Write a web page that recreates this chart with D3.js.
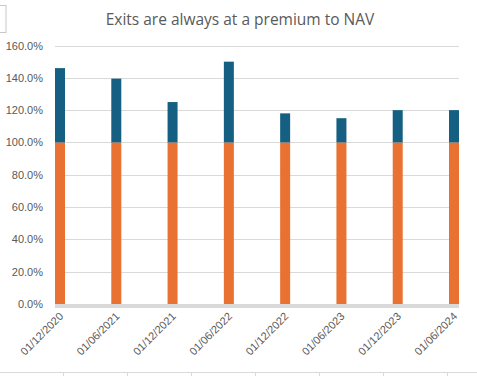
<!DOCTYPE html>
<html>
<head>
<meta charset="utf-8">
<script src="https://cdn.jsdelivr.net/npm/d3@7"></script>
<style>
  body { margin: 0; background: #fff; }
  svg { display: block; }
</style>
</head>
<body>
<svg id="chart" width="477" height="376"></svg>
<script>
const dates = ['01/12/2020', '01/06/2021', '01/12/2021', '01/06/2022',
               '01/12/2022', '01/06/2023', '01/12/2023', '01/06/2024']
const nav = [1, 1, 1, 1, 1, 1, 1, 1]
const premium = [0.46, 0.395, 0.25, 0.50, 0.18, 0.15, 0.20, 0.20]
const yTicks = [0, 0.2, 0.4, 0.6, 0.8, 1.0, 1.2, 1.4, 1.6]

const width = 477
const height = 376
const plot = { left: 55, right: 459, top: 45.5, bottom: 304 }
const barWidth = 10

const svg = d3.select('#chart')

// partially visible box at the top left
svg.append('rect')
    .attr('x', -2).attr('y', 5.5)
    .attr('width', 8).attr('height', 27)
    .attr('fill', '#fff')
    .attr('stroke', '#c8c8c8')

const x = d3.scalePoint()
    .domain(dates)
    .range([plot.left + barWidth / 2, plot.right - barWidth / 2])

const y = d3.scaleLinear()
    .domain([0, 1.6])
    .range([plot.bottom, plot.top])

// title
svg.append('text')
    .attr('x', 240).attr('y', 25)
    .attr('text-anchor', 'middle')
    .attr('font-family', 'Open Sans, sans-serif')
    .attr('font-size', '15.5px')
    .attr('fill', '#595959')
    .text('Exits are always at a premium to NAV')

// gridlines
svg.append('g')
    .selectAll('line')
    .data(yTicks.filter(d => d > 0))
    .join('line')
    .attr('x1', plot.left).attr('x2', plot.right)
    .attr('y1', d => Math.round(y(d)) + 0.5)
    .attr('y2', d => Math.round(y(d)) + 0.5)
    .attr('stroke', '#d9d9d9')
    .attr('stroke-width', 1)

// y labels
svg.append('g')
    .selectAll('text')
    .data(yTicks)
    .join('text')
    .attr('x', 43)
    .attr('y', d => y(d) + 4)
    .attr('text-anchor', 'end')
    .attr('font-family', 'Liberation Sans, Arial, sans-serif')
    .attr('font-size', '11px')
    .attr('fill', '#595959')
    .text(d => d3.format('.1f')(d * 100) + '%')

// stacked bars
const stack = dates.map((d, i) => ({ date: d, nav: nav[i], premium: premium[i] }))

svg.append('g')
    .selectAll('rect')
    .data(stack)
    .join('rect')
    .attr('x', d => x(d.date) - barWidth / 2)
    .attr('y', d => y(d.nav))
    .attr('width', barWidth)
    .attr('height', d => y(0) - y(d.nav))
    .attr('fill', '#e97132')

svg.append('g')
    .selectAll('rect')
    .data(stack)
    .join('rect')
    .attr('x', d => x(d.date) - barWidth / 2)
    .attr('y', d => y(d.nav + d.premium))
    .attr('width', barWidth)
    .attr('height', d => y(d.nav) - y(d.nav + d.premium))
    .attr('fill', '#156082')

// zero axis
svg.append('rect')
    .attr('x', plot.left).attr('y', plot.bottom)
    .attr('width', plot.right - plot.left).attr('height', 4)
    .attr('fill', '#d9d9d9')

// x labels
svg.append('g')
    .selectAll('text')
    .data(dates)
    .join('text')
    .attr('transform', d => `translate(${x(d) + 4},${plot.bottom + 13}) rotate(-45)`)
    .attr('text-anchor', 'end')
    .attr('font-family', 'Liberation Sans, Arial, sans-serif')
    .attr('font-size', '11px')
    .attr('fill', '#595959')
    .text(d => d)

// sheet cell borders at the bottom
svg.append('line')
    .attr('x1', 0).attr('x2', width)
    .attr('y1', 372.5).attr('y2', 372.5)
    .attr('stroke', '#d9d9d9')

svg.append('g')
    .selectAll('line')
    .data(d3.range(63, width, 64))
    .join('line')
    .attr('x1', d => d + 0.5).attr('x2', d => d + 0.5)
    .attr('y1', 372).attr('y2', height)
    .attr('stroke', '#d9d9d9')
</script>
</body>
</html>
